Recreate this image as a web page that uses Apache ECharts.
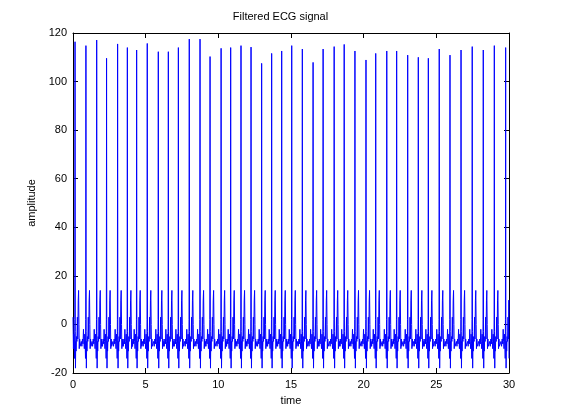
<!DOCTYPE html>
<html>
<head>
<meta charset="utf-8">
<script src="https://cdn.jsdelivr.net/npm/echarts@6/dist/echarts.min.js"></script>
<style>html,body{margin:0;padding:0;background:#fff}#chart{width:561px;height:420px}</style>
</head>
<body>
<div id="chart"></div>
<script>
// R-peak times (s)
var beatTimes = [0.14, 0.89, 1.63, 2.31, 3.07, 3.74, 4.38, 5.11, 5.87, 6.56, 7.25, 8.00, 8.74, 9.43,
    10.19, 10.85, 11.56, 12.25, 12.98, 13.67, 14.36, 15.05, 15.78, 16.52, 17.21, 17.97, 18.66, 19.40,
    20.16, 20.83, 21.59, 22.27, 23.03, 23.76, 24.45, 25.20, 25.94, 26.70, 27.47, 28.23, 28.99, 29.77];
// R-peak amplitudes
var beatPeaks = [116.4, 114.8, 117.1, 109.6, 115.5, 114.0, 113.0, 115.7, 112.3, 112.3, 114.0, 117.5, 117.5, 110.3,
    113.7, 114.0, 114.8, 114.2, 107.5, 111.6, 112.6, 114.8, 113.4, 107.9, 113.4, 114.4, 115.3, 112.6,
    108.9, 111.6, 112.6, 112.6, 110.9, 110.0, 109.6, 113.4, 110.9, 113.0, 114.4, 113.0, 114.8, 114.0];
// one beat shape around the R peak: offsets (s) and amplitudes (R value filled per beat)
var shapeOffsets = [-0.32, -0.28, -0.24, -0.20, -0.17, -0.14, -0.11, -0.08, -0.05, -0.03, -0.015, 0, 0.015, 0.03, 0.05,
    0.07, 0.1, 0.13, 0.16, 0.19, 0.22, 0.245, 0.27, 0.29, 0.32, 0.35];
var shapeValues  = [-7, -9, -6, -8, -2, -7, -10, -4, -8, -14, 2, null, -3, -18, -7,
    -11, -5, -7, 3, -6, 10, 14, 0, -10, -6, -9];

var signal = [[0, 3]];
beatTimes.forEach(function (t, i) {
    shapeOffsets.forEach(function (o, k) {
        var x = t + o;
        if (x <= 0 || x > 30) return;
        signal.push([+x.toFixed(3), shapeValues[k] === null ? beatPeaks[i] : shapeValues[k]]);
    });
});
signal.push([30, -14]);

var font = 'Liberation Sans';
var chart = echarts.init(document.getElementById('chart'));
chart.setOption({
    animation: false,
    title: {text: 'Filtered ECG signal', left: 'center', top: 6,
        textStyle: {fontFamily: font, fontSize: 11, fontWeight: 'normal', color: '#000'}},
    grid: {left: 73, right: 52, top: 33, bottom: 47},
    xAxis: [{
        type: 'value', min: 0, max: 30, interval: 5,
        name: 'time', nameLocation: 'middle', nameGap: 22,
        nameTextStyle: {fontFamily: font, fontSize: 11, color: '#000'},
        axisLine: {onZero: false, lineStyle: {color: '#000'}},
        axisTick: {inside: true, length: 5, lineStyle: {color: '#000'}},
        axisLabel: {fontFamily: font, fontSize: 11, color: '#000', margin: 6},
        splitLine: {show: false}
    }, {
        type: 'value', min: 0, max: 30, interval: 5, position: 'top',
        axisLine: {show: true, onZero: false, lineStyle: {color: '#000'}},
        axisTick: {inside: true, length: 5, lineStyle: {color: '#000'}},
        axisLabel: {show: false}, splitLine: {show: false}
    }],
    yAxis: [{
        type: 'value', min: -20, max: 120, interval: 20,
        name: 'amplitude', nameLocation: 'middle', nameGap: 36,
        nameTextStyle: {fontFamily: font, fontSize: 11, color: '#000'},
        axisLine: {show: true, onZero: false, lineStyle: {color: '#000'}},
        axisTick: {show: true, inside: true, length: 5, lineStyle: {color: '#000'}},
        axisLabel: {fontFamily: font, fontSize: 11, color: '#000', margin: 6},
        splitLine: {show: false}
    }, {
        type: 'value', min: -20, max: 120, interval: 20, position: 'right',
        axisLine: {show: true, onZero: false, lineStyle: {color: '#000'}},
        axisTick: {show: true, inside: true, length: 5, lineStyle: {color: '#000'}},
        axisLabel: {show: false}, splitLine: {show: false}
    }],
    series: [{
        type: 'line', data: signal, showSymbol: false,
        lineStyle: {color: '#0000ff', width: 1}
    }]
});
</script>
</body>
</html>
